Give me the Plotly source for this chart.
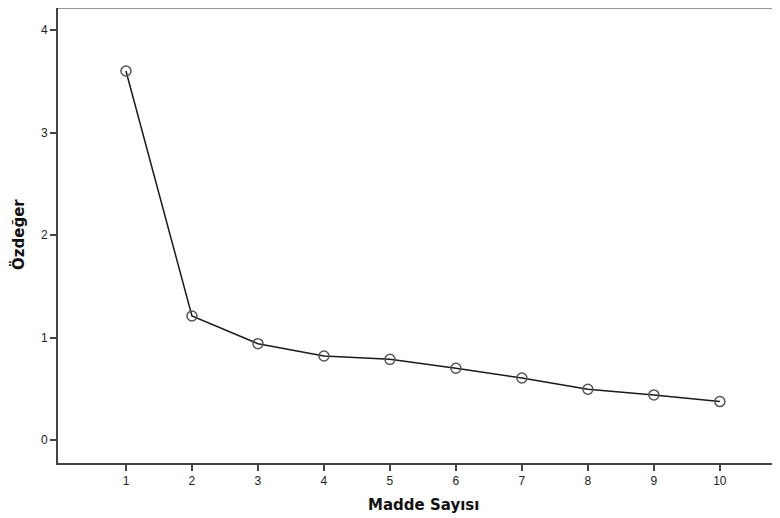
import plotly.graph_objects as go

madde = [1, 2, 3, 4, 5, 6, 7, 8, 9, 10]
ozdeger = [3.60, 1.21, 0.94, 0.82, 0.787, 0.70, 0.605, 0.495, 0.44, 0.375]
x_ticks = [1, 2, 3, 4, 5, 6, 7, 8, 9, 10]
y_ticks = [0, 1, 2, 3, 4]

# The page body has an 8px default margin, so the figure is sized to fit inside it.
W, H = 764, 510
L, T, B = 50, 0, 55
PW, PH = W - L, H - T - B

fig = go.Figure()
fig.add_trace(go.Scatter(
    x=madde, y=ozdeger, mode="lines+markers",
    line=dict(color="#1a1a1a", width=1.5),
    marker=dict(symbol="circle-open", size=10, color="#555555", line=dict(width=1.5)),
    showlegend=False, hoverinfo="x+y",
))

axis_font = dict(family="Liberation Sans, Arial, sans-serif", size=12, color="#222222")
title_font = dict(family="DejaVu Sans, Verdana, sans-serif", size=15, color="#111111")

fig.update_layout(
    width=W, height=H,
    margin=dict(l=L, r=0, t=T, b=B, pad=0),
    paper_bgcolor="white", plot_bgcolor="white",
    xaxis=dict(
        range=[-0.03, 10.79], tickvals=x_ticks, ticktext=[str(v) for v in x_ticks],
        showgrid=False, zeroline=False, showline=True, linecolor="#444444", linewidth=2,
        ticks="outside", ticklen=6, tickwidth=2, tickcolor="#444444",
        tickfont=axis_font, automargin=False,
    ),
    yaxis=dict(
        range=[-0.224, 4.215], tickvals=y_ticks, ticktext=[str(v) for v in y_ticks],
        showgrid=False, zeroline=False, showline=True, linecolor="#444444", linewidth=2,
        ticks="outside", ticklen=6, tickwidth=2, tickcolor="#444444",
        tickfont=axis_font, automargin=False,
    ),
    annotations=[
        dict(text="<b>Madde Sayısı</b>", xref="paper", yref="paper",
             x=(416 - L) / PW, y=-(497 - (T + PH)) / PH, xanchor="center", yanchor="middle",
             showarrow=False, font=title_font),
        dict(text="<b>Özdeğer</b>", xref="paper", yref="paper",
             x=-(L - 10) / PW, y=(T + PH - 227) / PH, xanchor="center", yanchor="middle",
             textangle=-90, showarrow=False, font=title_font),
    ],
)
fig.add_shape(type="line", xref="paper", yref="paper", x0=0, x1=1, y0=1, y1=1,
              line=dict(color="#999999", width=2))

fig.write_html("out.html")
